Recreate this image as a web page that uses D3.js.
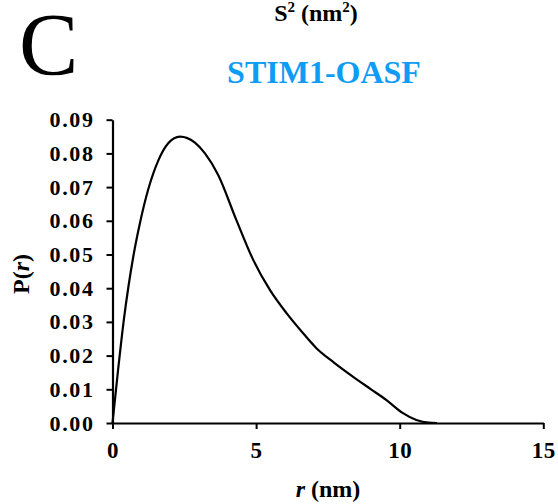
<!DOCTYPE html>
<html>
<head>
<meta charset="utf-8">
<script src="https://cdn.jsdelivr.net/npm/d3@7"></script>
<style>
  html, body { margin: 0; padding: 0; background: #fff; }
  svg { display: block; }
</style>
</head>
<body>
<svg id="chart" width="558" height="504"></svg>
<script>
// Pair distance distribution P(r) of STIM1-OASF
const rValues = [0, 0.2, 0.4, 0.55, 0.72, 0.96, 1.25, 1.59, 1.94, 2.35, 2.87, 3.22, 3.68, 4.3, 4.9, 5.48, 6.06, 6.6, 7.1, 7.7, 8.38, 9.0, 9.54, 10.1, 10.58, 11.0, 11.3];
const pValues = [0, 0.0162, 0.0310, 0.0402, 0.0492, 0.0595, 0.0695, 0.0778, 0.0830, 0.0850, 0.0832, 0.0800, 0.0736, 0.0605, 0.0484, 0.0395, 0.0326, 0.0270, 0.0222, 0.0180, 0.0137, 0.0100, 0.0068, 0.0030, 0.0009, 0.0001, 0];
const xTicks = [0, 5, 10, 15];
const yTicks = [0, 0.01, 0.02, 0.03, 0.04, 0.05, 0.06, 0.07, 0.08, 0.09];

const SERIF = "'Liberation Serif', 'Times New Roman', serif";
const svg = d3.select("#chart");
const x = d3.scaleLinear().domain([0, 15]).range([112.5, 543.3]);
const y = d3.scaleLinear().domain([0, 0.09]).range([423, 119.7]);

function label(sel, size, bold) {
  return sel.style("font-family", SERIF).style("font-size", size + "px")
    .style("font-weight", bold ? "bold" : "normal");
}

// panel letter
label(svg.append("text").attr("x", 19).attr("y", 74), 89, false).text("C");

// axis title carried over from the panel above
const s2 = label(svg.append("text").attr("x", 316).attr("y", 21)
  .attr("text-anchor", "middle"), 24, true);
s2.append("tspan").text("S");
s2.append("tspan").style("font-size", "15px").attr("dy", -9).text("2");
s2.append("tspan").attr("dy", 9).text(" (nm");
s2.append("tspan").style("font-size", "15px").attr("dy", -9).text("2");
s2.append("tspan").attr("dy", 9).text(")");

// chart title
label(svg.append("text").attr("x", 324).attr("y", 83)
  .attr("text-anchor", "middle"), 32, true)
  .attr("fill", "#0f9cf5").text("STIM1-OASF");

// axes
const xAxis = d3.axisBottom(x).tickValues(xTicks).tickFormat(d3.format("d"))
  .tickSize(6).tickSizeOuter(0).tickPadding(13);
const yAxis = d3.axisLeft(y).tickValues(yTicks).tickFormat(d3.format(".2f"))
  .tickSize(6).tickSizeOuter(0).tickPadding(12);

const gx = svg.append("g").attr("transform", `translate(0,${y(0)})`).call(xAxis);
const gy = svg.append("g").attr("transform", `translate(${x(0)},0)`).call(yAxis);

[gx, gy].forEach(g => {
  g.select(".domain").attr("stroke", "#000").attr("stroke-width", 2.2);
  g.selectAll(".tick line").attr("stroke", "#000").attr("stroke-width", 2);
  g.selectAll(".tick text").attr("fill", "#000");
});
label(gx.selectAll(".tick text"), 23, true).style("letter-spacing", "0.5px");
label(gy.selectAll(".tick text"), 22, true).style("letter-spacing", "1.6px");

// axis labels
const xl = label(svg.append("text").attr("x", 328).attr("y", 497)
  .attr("text-anchor", "middle"), 24, true);
xl.append("tspan").style("font-style", "italic").text("r");
xl.append("tspan").text(" (nm)");

const yl = label(svg.append("text").attr("transform", "translate(29,274) rotate(-90)")
  .attr("text-anchor", "middle"), 24, true);
yl.append("tspan").text("P(");
yl.append("tspan").style("font-style", "italic").text("r");
yl.append("tspan").text(")");

// distribution curve
const line = d3.line()
  .x((d, i) => x(rValues[i]))
  .y(d => y(d))
  .curve(d3.curveMonotoneX);

svg.append("path").datum(pValues)
  .attr("d", line)
  .attr("fill", "none")
  .attr("stroke", "#000")
  .attr("stroke-width", 2.2)
  .attr("stroke-linejoin", "round");
</script>
</body>
</html>
